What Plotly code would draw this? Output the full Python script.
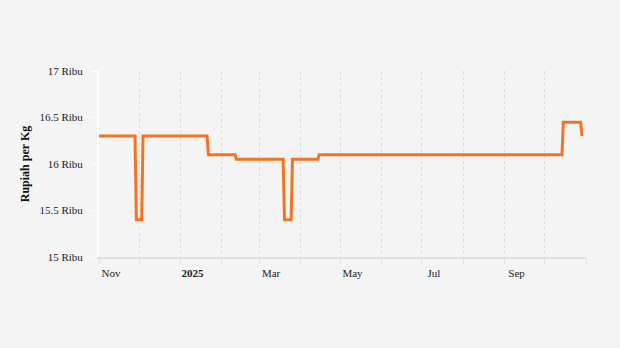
import plotly.graph_objects as go

# Price series (breakpoints of a daily step-like series), Rupiah thousands per Kg
dates = [
    "2024-11-01", "2024-11-28", "2024-11-29", "2024-12-03", "2024-12-04",
    "2025-01-21", "2025-01-22", "2025-02-11", "2025-02-12", "2025-03-19",
    "2025-03-20", "2025-03-25", "2025-03-26", "2025-04-14", "2025-04-15",
    "2025-10-14", "2025-10-15", "2025-10-28", "2025-10-29",
]
values = [
    16.3, 16.3, 15.4, 15.4, 16.3,
    16.3, 16.1, 16.1, 16.05, 16.05,
    15.4, 15.4, 16.05, 16.05, 16.1,
    16.1, 16.45, 16.45, 16.3,
]

tick_dates = [
    "2024-11-01", "2024-12-01", "2025-01-01", "2025-02-01", "2025-03-01",
    "2025-04-01", "2025-05-01", "2025-06-01", "2025-07-01", "2025-08-01",
    "2025-09-01", "2025-10-01", "2025-11-01",
]
tick_labels = ["Nov", "", "<b>2025</b>", "", "Mar", "", "May", "", "Jul", "", "Sep", "", ""]

y_ticks = [15, 15.5, 16, 16.5, 17]
y_tick_labels = ["15 Ribu", "15.5 Ribu", "16 Ribu", "16.5 Ribu", "17 Ribu"]

bg = "#f4f4f4"
font_family = "Liberation Serif"

fig = go.Figure()
fig.add_trace(go.Scatter(
    x=dates, y=values, mode="lines",
    line=dict(color="#F47321", width=3),
    hoverinfo="skip", showlegend=False,
))

fig.update_layout(
    width=620, height=348,
    margin=dict(l=99, r=34, t=71, b=90.5),
    paper_bgcolor=bg, plot_bgcolor=bg,
    font=dict(family=font_family, size=11, color="#222222"),
    xaxis=dict(
        type="date",
        range=["2024-11-01", "2025-11-01"],
        tickvals=tick_dates, ticktext=tick_labels,
        showgrid=True, gridcolor="#d9d9d9", gridwidth=1, griddash="3px,3px",
        showline=True, linecolor="#e0e0e0", linewidth=2,
        ticks="outside", ticklen=5, tickcolor="#e0e0e0", tickwidth=1,
        ticklabelshift=12, ticklabelstandoff=0,
        tickfont=dict(family=font_family, size=11, color="#222222"),
        zeroline=False, fixedrange=True,
    ),
    yaxis=dict(
        range=[15, 17],
        tickvals=y_ticks, ticktext=y_tick_labels,
        showgrid=False, zeroline=False,
        showline=True, linecolor="#ffffff", linewidth=2,
        ticks="outside", ticklen=6, tickcolor="#ffffff", tickwidth=1,
        ticklabelstandoff=6,
        tickfont=dict(family=font_family, size=11, color="#222222"),
        title=dict(text="<b>Rupiah per Kg</b>", standoff=7,
                   font=dict(family=font_family, size=12, color="#111111")),
        fixedrange=True,
    ),
)

fig.write_html("out.html")
